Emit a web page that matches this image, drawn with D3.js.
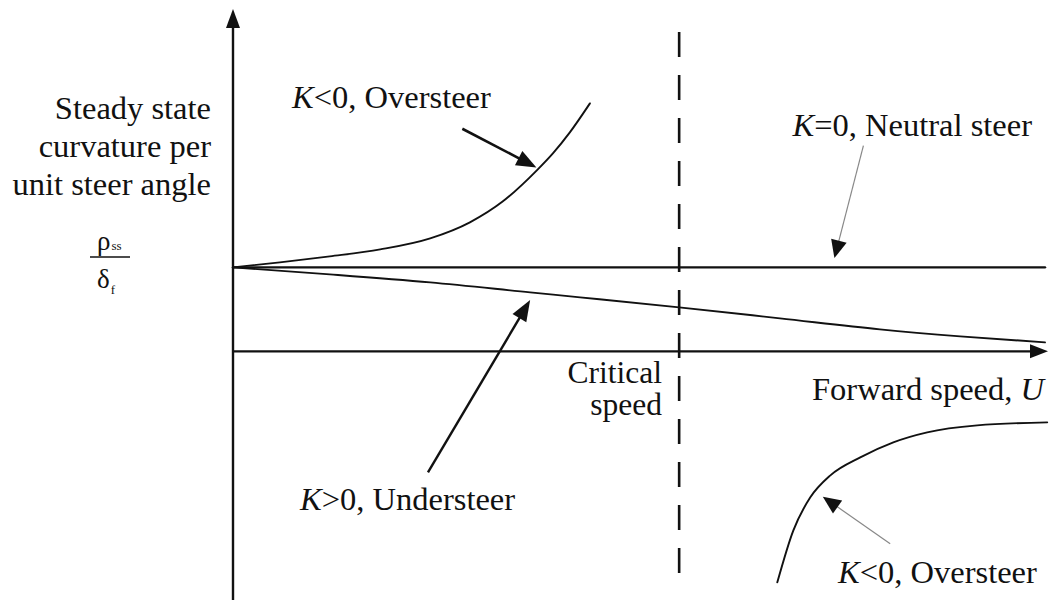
<!DOCTYPE html>
<html>
<head>
<meta charset="utf-8">
<script src="https://cdn.jsdelivr.net/npm/d3@7"></script>
<style>
  html, body { margin: 0; padding: 0; background: #fff; }
  svg { display: block; }
  text { font-family: "Liberation Serif", "Times New Roman", serif; fill: #111; }
</style>
</head>
<body>
<svg id="chart" width="1055" height="606"></svg>
<script>
// Forward speed U, relative to the critical speed (U / Ucrit)
// Steady-state curvature per unit steer angle, in units of 1/L (wheelbase)

// K = 0, neutral steer
const neutralU   = [0, 1.82];
const neutralRho = [1, 1];

// K > 0, understeer
const underU   = [0, 0.217, 0.442, 0.666, 0.778, 1.0, 1.226, 1.450, 1.630, 1.820];
const underRho = [1, 0.917, 0.821, 0.702, 0.643, 0.524, 0.393, 0.262, 0.179, 0.107];

// K < 0, oversteer, below the critical speed
const overLowU   = [0, 0.105, 0.217, 0.330, 0.442, 0.531, 0.605, 0.681, 0.717, 0.755, 0.800];
const overLowRho = [1, 1.060, 1.131, 1.214, 1.345, 1.536, 1.786, 2.155, 2.357, 2.607, 2.952];

// K < 0, oversteer, above the critical speed
const overHighU   = [1.220, 1.256, 1.294, 1.339, 1.406, 1.480, 1.556, 1.668, 1.825];
const overHighRho = [-2.75, -2.131, -1.738, -1.476, -1.262, -1.083, -0.964, -0.881, -0.845];

// Critical speed
const criticalU = 1.0;

const svg = d3.select("#chart");
const ink = "#111";

const x = d3.scaleLinear().domain([0, 1.82]).range([233, 1045]);
const y = d3.scaleLinear().domain([-2.96, 4.04]).range([600, 12]);

const zip = (a, b) => a.map((v, i) => [v, b[i]]);
const line = d3.line().x(d => x(d[0])).y(d => y(d[1])).curve(d3.curveMonotoneX);

// Critical speed divider
svg.append("line")
  .attr("x1", x(criticalU)).attr("x2", x(criticalU))
  .attr("y1", 32).attr("y2", 584)
  .attr("stroke", ink).attr("stroke-width", 2.6)
  .attr("stroke-dasharray", "25 18");

// Axes
svg.append("line")
  .attr("x1", x(0)).attr("x2", x(0))
  .attr("y1", y.range()[0]).attr("y2", 26)
  .attr("stroke", ink).attr("stroke-width", 2.4);
svg.append("line")
  .attr("x1", x(0)).attr("x2", 1032)
  .attr("y1", y(0)).attr("y2", y(0))
  .attr("stroke", ink).attr("stroke-width", 2.4);

// axis arrowheads
svg.append("path")
  .attr("d", `M${x(0)},9 L${x(0) - 7},28 L${x(0) + 7},28 Z`)
  .attr("fill", ink);
svg.append("path")
  .attr("d", `M1048,${y(0)} L1030,${y(0) - 7} L1030,${y(0) + 7} Z`)
  .attr("fill", ink);

// Response curves
const series = [
  { pts: zip(neutralU, neutralRho), w: 2.4 },
  { pts: zip(underU, underRho), w: 1.9 },
  { pts: zip(overLowU, overLowRho), w: 1.9 },
  { pts: zip(overHighU, overHighRho), w: 1.9 }
];
svg.selectAll("path.curve")
  .data(series)
  .join("path")
  .attr("class", "curve")
  .attr("d", d => line(d.pts))
  .attr("fill", "none")
  .attr("stroke", ink)
  .attr("stroke-width", d => d.w)
  .attr("stroke-linecap", "round");

// Annotation arrows: tail and tip given in chart units
const arrows = [
  { from: [0.514, 2.65], to: [0.680, 2.19], stroke: ink, w: 2.6, len: 20, half: 8 },
  { from: [1.413, 2.45], to: [1.348, 1.11], stroke: "#888", w: 1.2, len: 18, half: 8 },
  { from: [0.437, -1.44], to: [0.666, 0.61], stroke: ink, w: 2.4, len: 21, half: 8 },
  { from: [1.473, -2.29], to: [1.322, -1.73], stroke: "#888", w: 1.2, len: 18, half: 8 }
];

arrows.forEach(a => {
  const x0 = x(a.from[0]), y0 = y(a.from[1]);
  const x1 = x(a.to[0]), y1 = y(a.to[1]);
  const dx = x1 - x0, dy = y1 - y0;
  const L = Math.hypot(dx, dy);
  const ux = dx / L, uy = dy / L;
  const bx = x1 - ux * a.len, by = y1 - uy * a.len;
  svg.append("line")
    .attr("x1", x0).attr("y1", y0)
    .attr("x2", bx + ux * 2).attr("y2", by + uy * 2)
    .attr("stroke", a.stroke).attr("stroke-width", a.w);
  svg.append("path")
    .attr("d", `M${x1},${y1} L${bx - uy * a.half},${by + ux * a.half} L${bx + uy * a.half},${by - ux * a.half} Z`)
    .attr("fill", ink);
});

// Text labels
const fs = 32.5;

function kLabel(tx, ty, rel, rest, anchor) {
  const t = svg.append("text")
    .attr("x", tx).attr("y", ty)
    .attr("font-size", fs)
    .attr("text-anchor", anchor || "start");
  t.append("tspan").attr("font-style", "italic").text("K");
  t.append("tspan").text(rel + rest);
}

kLabel(292, 108, "<0", ", Oversteer");
kLabel(1032, 136, "=0", ", Neutral steer", "end");
kLabel(300, 510, ">0", ", Understeer");
kLabel(838, 583, "<0", ", Oversteer");

// y-axis title
const yTitle = ["Steady state", "curvature per", "unit steer angle"];
svg.append("g").selectAll("text")
  .data(yTitle)
  .join("text")
  .attr("x", 211)
  .attr("y", (d, i) => 119 + i * 38)
  .attr("font-size", fs)
  .attr("text-anchor", "end")
  .text(d => d);

// rho_ss / delta_f
const frac = svg.append("g");
const rho = frac.append("text").attr("x", 97).attr("y", 250).attr("font-size", 27);
rho.append("tspan").text("ρ");
rho.append("tspan").attr("font-size", 13).attr("dx", 1).text("ss");
frac.append("line")
  .attr("x1", 90).attr("x2", 130)
  .attr("y1", 257).attr("y2", 257)
  .attr("stroke", ink).attr("stroke-width", 1.6);
const del = frac.append("text").attr("x", 97).attr("y", 288).attr("font-size", 27);
del.append("tspan").text("δ");
del.append("tspan").attr("font-size", 13).attr("dx", 1).attr("dy", 6).text("f");

// critical speed
svg.append("text").attr("x", 662).attr("y", 383).attr("font-size", 31.5)
  .attr("text-anchor", "end").text("Critical");
svg.append("text").attr("x", 662).attr("y", 415).attr("font-size", 31.5)
  .attr("text-anchor", "end").text("speed");

// x-axis title
const xt = svg.append("text").attr("x", 1044).attr("y", 400)
  .attr("font-size", fs).attr("text-anchor", "end");
xt.append("tspan").text("Forward speed, ");
xt.append("tspan").attr("font-style", "italic").text("U");
</script>
</body>
</html>
